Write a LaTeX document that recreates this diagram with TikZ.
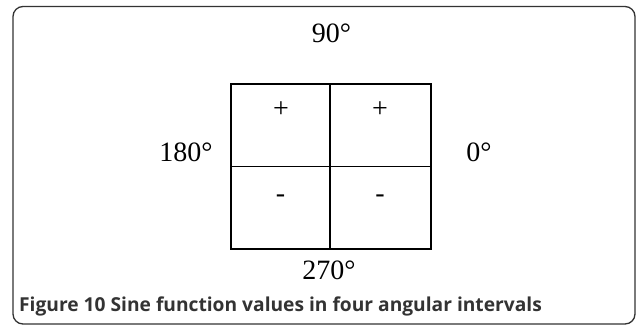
\documentclass[tikz,border=0pt]{standalone}
\usepackage{fontspec}
\setmainfont{Liberation Serif}
\newfontfamily\capfont{Open Sans}
\begin{document}
\begin{tikzpicture}[x=1pt,y=-1pt,
  gridline/.style={draw=black,line width=1.1pt},
  deg/.style={font=\fontsize{28}{30}\selectfont,inner sep=0pt,anchor=base},
  sign/.style={font=\fontsize{28}{30}\selectfont,inner sep=0pt,anchor=base},
  frame/.style={draw=black!80,line width=1.3pt,rounded corners=10pt},
  captext/.style={font=\capfont\bfseries\fontsize{19.2}{21}\selectfont,text=black!80,inner sep=0pt,anchor=base west}]
\useasboundingbox (0,0) rectangle (637,327);
\draw[frame] (13,6.5) rectangle (635,324);
% grid
\coordinate (tl) at (231,84);
\coordinate (br) at (431,249);
\coordinate (tm) at (330,84);
\coordinate (bm) at (330,249);
\coordinate (ml) at (231,166.5);
\coordinate (mr) at (431,166.5);
\draw[gridline] (tl) rectangle (br);
\draw[gridline] (tm) -- (bm);
\draw[gridline] (ml) -- (mr);
% signs
\node[sign] (p1) at (281,117) {+};
\node[sign] (p2) at (380,117) {+};
\node[sign] (m1) at (280.5,202) {-};
\node[sign] (m2) at (380,202) {-};
% degrees
\node[deg] (d90) at (331.5,42.3) {90°};
\node[deg] (d180) at (186,161.7) {180°};
\node[deg] (d0) at (479,161.7) {0°};
\node[deg] (d270) at (329,279) {270°};
% caption
\node[captext] (cap) at (19,311.7) {Figure 10 Sine function values in four angular intervals};
\end{tikzpicture}
\end{document}
